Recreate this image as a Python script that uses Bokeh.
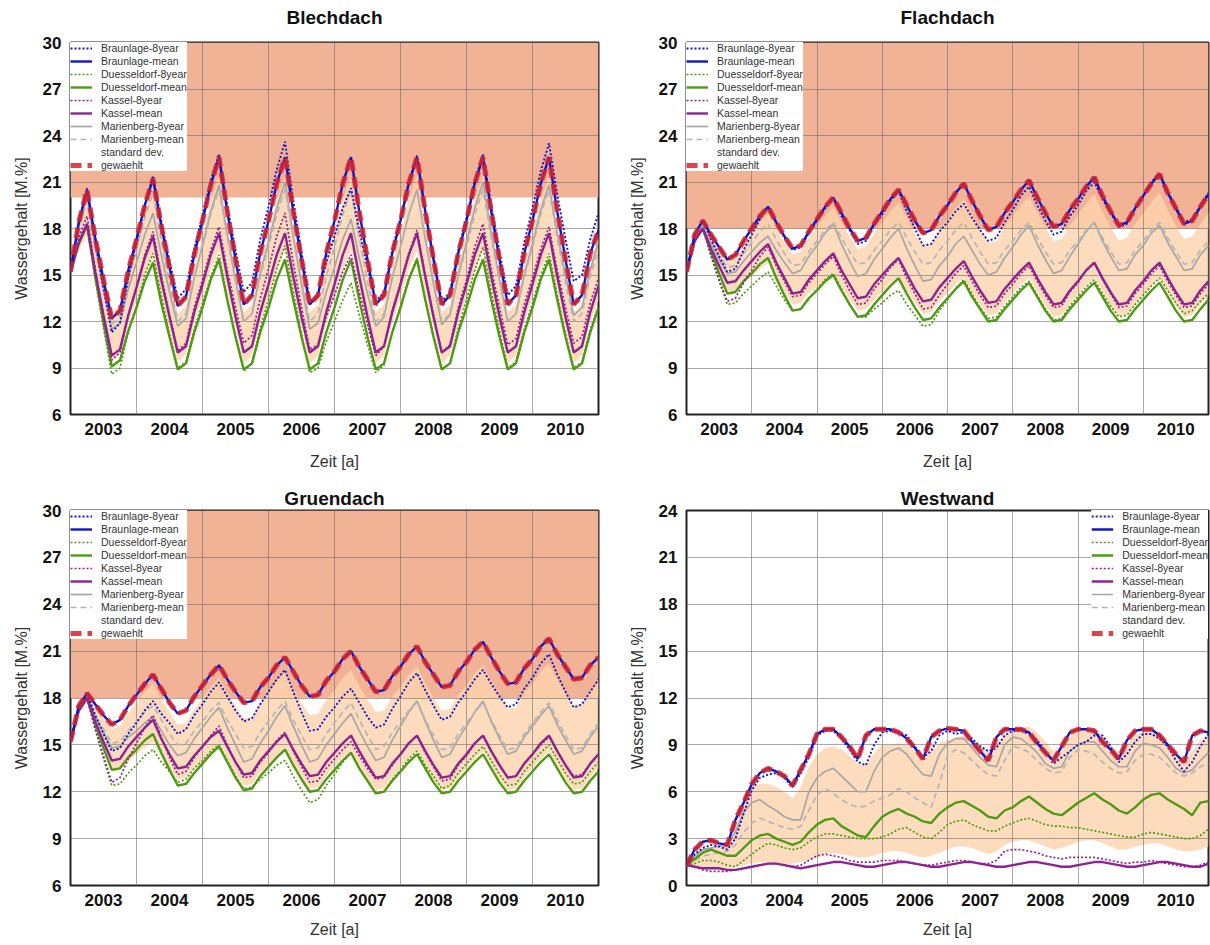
from bokeh.plotting import figure
from bokeh.layouts import column, row
from bokeh.models import Range1d, FixedTicker, Legend, LegendItem, Title
from bokeh.embed import file_html
from bokeh.resources import INLINE

# ---------------- data ----------------
T = [i / 8 for i in range(65)]          # time in years since start of 2003 (1/8-year samples)
YEARS = ["2003", "2004", "2005", "2006", "2007", "2008", "2009", "2010"]
YEAR_POS = [0.5, 1.5, 2.5, 3.5, 4.5, 5.5, 6.5, 7.5]
YEAR_BOUNDS = [1, 2, 3, 4, 5, 6, 7]
Y_TICKS_ROOF = [6, 9, 12, 15, 18, 21, 24, 27, 30]
Y_TICKS_WALL = [0, 3, 6, 9, 12, 15, 18, 21, 24]
THRESHOLD = {"Blechdach": 20.0, "Flachdach": 18.0, "Gruendach": 18.0, "Westwand": None}

# ----- Blechdach -----
BL_B8 = [15.2, 18.4, 20.6, 17.2, 14.1, 11.3, 11.9, 14.8,
         17.1, 19.5, 21.4, 18.5, 15.9, 13.5, 14.1, 16.7,
         18.8, 21.1, 22.8, 19.5, 16.6, 13.9, 14.5, 17.3,
         19.4, 21.8, 23.6, 19.8, 16.5, 13.3, 13.7, 15.8,
         17.5, 19.3, 20.6, 17.9, 15.5, 13.3, 13.9, 16.6,
         18.7, 21.0, 22.7, 19.2, 16.2, 13.3, 13.9, 16.6,
         18.7, 21.1, 22.8, 19.5, 16.5, 13.7, 14.3, 17.1,
         19.3, 21.7, 23.5, 20.2, 17.3, 14.6, 15.0, 17.3, 19.0]
BL_BM = [15.2, 18.4, 20.5, 17.4, 14.7, 12.2, 12.7, 15.3,
         17.3, 19.5, 21.2, 18.2, 15.5, 13.0, 13.6, 16.3,
         18.5, 20.8, 22.6, 19.1, 16.0, 13.1, 13.7, 16.4,
         18.5, 20.9, 22.6, 19.1, 16.0, 13.1, 13.7, 16.4,
         18.5, 20.9, 22.6, 19.1, 16.0, 13.1, 13.7, 16.4,
         18.5, 20.9, 22.6, 19.1, 16.0, 13.1, 13.7, 16.4,
         18.5, 20.9, 22.6, 19.1, 16.0, 13.1, 13.7, 16.4,
         18.5, 20.9, 22.6, 19.1, 16.0, 13.1, 13.7, 16.4, 17.9]
BL_D8 = [15.2, 17.1, 18.3, 14.7, 11.6, 8.6, 9.0, 11.3,
         13.0, 15.0, 16.4, 13.7, 11.2, 9.0, 9.4, 11.5,
         13.2, 14.9, 16.3, 13.5, 11.1, 8.8, 9.3, 11.6,
         13.4, 15.4, 16.9, 13.9, 11.2, 8.7, 9.0, 10.7,
         12.0, 13.4, 14.5, 12.4, 10.5, 8.7, 9.2, 11.3,
         13.0, 14.8, 16.1, 13.4, 11.1, 8.9, 9.3, 11.6,
         13.4, 15.3, 16.8, 13.9, 11.4, 9.0, 9.4, 11.5,
         13.2, 15.0, 16.4, 13.7, 11.2, 9.0, 9.4, 11.5, 13.0]
BL_DM = [15.2, 17.0, 18.2, 14.9, 11.9, 9.1, 9.5, 11.4,
         12.9, 14.6, 15.8, 13.2, 11.0, 8.9, 9.3, 11.3,
         12.9, 14.7, 16.0, 13.4, 11.0, 8.9, 9.3, 11.3,
         12.9, 14.7, 16.0, 13.4, 11.0, 8.9, 9.3, 11.3,
         12.9, 14.7, 16.0, 13.4, 11.0, 8.9, 9.3, 11.3,
         12.9, 14.7, 16.0, 13.4, 11.0, 8.9, 9.3, 11.3,
         12.9, 14.7, 16.0, 13.4, 11.0, 8.9, 9.3, 11.3,
         12.9, 14.7, 16.0, 13.4, 11.0, 8.9, 9.3, 11.3, 12.9]
BL_K8 = [15.2, 17.4, 18.8, 15.4, 12.3, 9.5, 10.0, 12.4,
         14.2, 16.3, 17.8, 15.0, 12.4, 10.1, 10.6, 12.9,
         14.7, 16.6, 18.1, 15.3, 12.9, 10.6, 11.1, 13.5,
         15.4, 17.5, 19.0, 15.8, 12.9, 10.2, 10.5, 12.3,
         13.7, 15.2, 16.3, 13.9, 11.8, 9.8, 10.4, 12.7,
         14.5, 16.4, 17.9, 15.0, 12.4, 10.0, 10.5, 12.9,
         14.7, 16.8, 18.3, 15.4, 12.9, 10.5, 10.9, 13.1,
         14.8, 16.7, 18.1, 15.3, 12.9, 10.6, 11.0, 13.2, 14.8]
BL_KM = [15.2, 17.1, 18.3, 15.2, 12.4, 9.8, 10.2, 12.4,
         14.2, 16.1, 17.5, 14.7, 12.3, 10.0, 10.4, 12.6,
         14.4, 16.3, 17.7, 14.9, 12.3, 10.0, 10.4, 12.6,
         14.4, 16.3, 17.7, 14.9, 12.3, 10.0, 10.4, 12.6,
         14.4, 16.3, 17.7, 14.9, 12.3, 10.0, 10.4, 12.6,
         14.4, 16.3, 17.7, 14.9, 12.3, 10.0, 10.4, 12.6,
         14.4, 16.3, 17.7, 14.9, 12.3, 10.0, 10.4, 12.6,
         14.4, 16.3, 17.7, 14.9, 12.3, 10.0, 10.4, 12.6, 14.3]
BL_M8 = [15.2, 18.1, 20.1, 16.9, 14.1, 11.5, 11.9, 14.1,
         15.8, 17.6, 19.0, 16.3, 13.9, 11.7, 12.2, 14.8,
         16.9, 19.1, 20.8, 17.6, 14.7, 12.0, 12.5, 15.1,
         17.1, 19.3, 21.0, 17.5, 14.4, 11.5, 11.9, 13.9,
         15.5, 17.3, 18.6, 16.1, 13.8, 11.7, 12.3, 14.8,
         16.8, 18.9, 20.5, 17.3, 14.4, 11.8, 12.4, 15.0,
         17.1, 19.3, 21.0, 17.7, 14.7, 12.0, 12.5, 15.0,
         17.0, 19.2, 20.8, 17.7, 15.0, 12.4, 12.9, 15.3, 17.2]
BL_MM = [15.2, 18.0, 19.8, 16.8, 14.2, 11.8, 12.3, 14.7,
         16.6, 18.7, 20.3, 17.2, 14.5, 12.0, 12.5, 14.9,
         16.8, 18.9, 20.5, 17.4, 14.6, 12.0, 12.5, 14.9,
         16.8, 18.9, 20.5, 17.4, 14.6, 12.0, 12.5, 14.9,
         16.8, 18.9, 20.5, 17.4, 14.6, 12.0, 12.5, 14.9,
         16.8, 18.9, 20.5, 17.4, 14.6, 12.0, 12.5, 14.9,
         16.8, 18.9, 20.5, 17.4, 14.6, 12.0, 12.5, 14.9,
         16.8, 18.9, 20.5, 17.4, 14.6, 12.0, 12.5, 14.9, 16.6]
BL_SD_LO = [15.1, 16.6, 17.6, 14.6, 12.0, 9.5, 9.9, 11.8,
            13.3, 15.0, 16.2, 13.7, 11.5, 9.4, 9.9, 11.9,
            13.5, 15.3, 16.6, 13.9, 11.6, 9.3, 9.8, 11.9,
            13.5, 15.3, 16.6, 13.9, 11.6, 9.3, 9.8, 11.9,
            13.5, 15.3, 16.6, 13.9, 11.6, 9.3, 9.8, 11.9,
            13.5, 15.3, 16.6, 13.9, 11.6, 9.3, 9.8, 11.9,
            13.5, 15.3, 16.6, 13.9, 11.6, 9.3, 9.8, 11.9,
            13.5, 15.3, 16.6, 13.9, 11.6, 9.3, 9.8, 11.9, 13.4]
BL_SD_HI = [15.3, 18.2, 20.2, 17.2, 14.6, 12.1, 12.6, 15.1,
            17.1, 19.3, 20.9, 17.8, 15.1, 12.5, 13.0, 15.6,
            17.6, 19.8, 21.5, 18.2, 15.3, 12.6, 13.1, 15.7,
            17.7, 19.9, 21.5, 18.2, 15.3, 12.6, 13.1, 15.7,
            17.7, 19.9, 21.5, 18.2, 15.3, 12.6, 13.1, 15.7,
            17.7, 19.9, 21.5, 18.2, 15.3, 12.6, 13.1, 15.7,
            17.7, 19.9, 21.5, 18.2, 15.3, 12.6, 13.1, 15.7,
            17.7, 19.9, 21.5, 18.2, 15.3, 12.6, 13.1, 15.7, 17.5]

# ----- Flachdach -----
FL_B8 = [15.2, 17.6, 18.6, 17.3, 16.2, 15.2, 15.4, 16.6,
         17.6, 18.6, 19.4, 18.4, 17.4, 16.6, 16.8, 17.7,
         18.5, 19.3, 19.9, 18.8, 17.9, 17.0, 17.2, 18.2,
         18.9, 19.8, 20.4, 19.1, 18.0, 16.9, 17.0, 17.8,
         18.4, 19.1, 19.6, 18.7, 17.9, 17.2, 17.4, 18.4,
         19.2, 20.1, 20.7, 19.5, 18.5, 17.6, 17.8, 18.8,
         19.5, 20.4, 21.0, 19.9, 19.0, 18.1, 18.3, 19.3,
         20.1, 21.0, 21.6, 20.4, 19.4, 18.4, 18.6, 19.5, 20.3]
FL_BM = [15.2, 17.6, 18.5, 17.6, 16.8, 16.0, 16.3, 17.2,
         18.0, 18.8, 19.4, 18.4, 17.5, 16.7, 16.9, 17.8,
         18.6, 19.4, 20.0, 19.0, 18.0, 17.2, 17.4, 18.3,
         19.1, 19.9, 20.5, 19.5, 18.5, 17.7, 17.9, 18.8,
         19.5, 20.3, 20.9, 19.8, 18.8, 17.9, 18.1, 19.0,
         19.7, 20.5, 21.1, 20.0, 19.0, 18.1, 18.3, 19.2,
         19.9, 20.7, 21.3, 20.1, 19.1, 18.2, 18.4, 19.3,
         20.1, 20.9, 21.5, 20.3, 19.3, 18.3, 18.5, 19.4, 20.2]
FL_D8 = [15.2, 17.2, 18.0, 16.2, 14.6, 13.1, 13.2, 13.8,
         14.3, 14.8, 15.2, 14.3, 13.4, 12.7, 12.8, 13.5,
         14.1, 14.7, 15.1, 14.1, 13.1, 12.3, 12.3, 12.8,
         13.2, 13.7, 14.0, 13.1, 12.4, 11.7, 11.8, 12.7,
         13.4, 14.1, 14.7, 13.8, 12.9, 12.2, 12.3, 13.0,
         13.6, 14.2, 14.6, 13.7, 12.8, 12.1, 12.2, 13.0,
         13.6, 14.2, 14.7, 13.8, 13.0, 12.3, 12.4, 13.1,
         13.7, 14.3, 14.8, 14.0, 13.2, 12.5, 12.7, 13.3, 13.8]
FL_DM = [15.2, 17.2, 18.0, 16.5, 15.1, 13.8, 13.9, 14.6,
         15.1, 15.7, 16.1, 14.8, 13.7, 12.7, 12.8, 13.5,
         14.0, 14.6, 15.0, 14.0, 13.1, 12.3, 12.4, 13.1,
         13.7, 14.3, 14.8, 13.8, 12.9, 12.1, 12.2, 12.9,
         13.5, 14.1, 14.6, 13.6, 12.8, 12.0, 12.1, 12.8,
         13.4, 14.0, 14.5, 13.6, 12.7, 12.0, 12.1, 12.8,
         13.4, 14.0, 14.5, 13.6, 12.7, 12.0, 12.1, 12.8,
         13.4, 14.0, 14.5, 13.6, 12.7, 12.0, 12.1, 12.8, 13.4]
FL_K8 = [15.2, 17.2, 18.0, 16.3, 14.7, 13.3, 13.5, 14.5,
         15.3, 16.2, 16.8, 15.6, 14.6, 13.6, 13.7, 14.5,
         15.1, 15.7, 16.2, 15.0, 14.0, 13.1, 13.2, 14.1,
         14.7, 15.5, 16.0, 14.8, 13.8, 12.8, 12.9, 13.7,
         14.4, 15.1, 15.6, 14.6, 13.7, 12.9, 13.0, 13.8,
         14.4, 15.1, 15.6, 14.6, 13.7, 12.9, 13.0, 13.9,
         14.5, 15.3, 15.8, 14.7, 13.8, 12.9, 13.0, 13.8,
         14.4, 15.1, 15.6, 14.6, 13.7, 12.9, 13.0, 13.8, 14.4]
FL_KM = [15.2, 17.2, 18.0, 16.7, 15.6, 14.5, 14.6, 15.3,
         15.9, 16.5, 17.0, 15.8, 14.8, 13.8, 13.9, 14.7,
         15.3, 15.9, 16.4, 15.3, 14.4, 13.5, 13.6, 14.4,
         15.0, 15.6, 16.1, 15.1, 14.1, 13.3, 13.4, 14.2,
         14.8, 15.4, 15.9, 14.9, 14.0, 13.2, 13.3, 14.1,
         14.7, 15.3, 15.8, 14.8, 13.9, 13.1, 13.2, 14.0,
         14.6, 15.3, 15.8, 14.8, 13.9, 13.1, 13.2, 14.0,
         14.6, 15.3, 15.8, 14.8, 13.9, 13.1, 13.2, 14.0, 14.6]
FL_M8 = [15.2, 17.3, 18.2, 17.0, 16.0, 15.1, 15.2, 15.9,
         16.5, 17.1, 17.5, 16.6, 15.8, 15.1, 15.3, 16.2,
         16.9, 17.7, 18.3, 17.0, 15.9, 14.9, 15.1, 16.0,
         16.7, 17.4, 18.0, 16.7, 15.6, 14.6, 14.7, 15.6,
         16.2, 17.0, 17.5, 16.6, 15.7, 15.0, 15.2, 16.1,
         16.8, 17.6, 18.2, 17.0, 16.0, 15.1, 15.3, 16.2,
         17.0, 17.8, 18.4, 17.2, 16.2, 15.3, 15.4, 16.3,
         16.9, 17.7, 18.2, 17.1, 16.2, 15.3, 15.4, 16.3, 16.9]
FL_MM = [15.2, 17.3, 18.2, 17.2, 16.3, 15.5, 15.6, 16.4,
         17.1, 17.8, 18.3, 17.3, 16.4, 15.6, 15.7, 16.5,
         17.2, 17.9, 18.4, 17.4, 16.5, 15.7, 15.8, 16.6,
         17.2, 17.9, 18.4, 17.4, 16.5, 15.7, 15.8, 16.6,
         17.2, 17.9, 18.4, 17.4, 16.5, 15.7, 15.8, 16.6,
         17.2, 17.9, 18.4, 17.4, 16.5, 15.7, 15.8, 16.6,
         17.2, 17.9, 18.4, 17.4, 16.5, 15.7, 15.8, 16.6,
         17.2, 17.9, 18.4, 17.4, 16.5, 15.7, 15.8, 16.6, 17.2]
FL_SD_LO = [15.1, 17.0, 17.9, 16.4, 15.0, 13.8, 13.9, 14.5,
            14.9, 15.4, 15.8, 14.8, 13.9, 13.1, 13.2, 13.8,
            14.2, 14.7, 15.1, 14.2, 13.4, 12.7, 12.8, 13.4,
            13.9, 14.5, 14.9, 14.0, 13.2, 12.5, 12.6, 13.3,
            13.8, 14.4, 14.8, 13.9, 13.1, 12.4, 12.5, 13.2,
            13.8, 14.4, 14.8, 13.9, 13.0, 12.3, 12.4, 13.1,
            13.7, 14.3, 14.8, 13.9, 13.0, 12.3, 12.4, 13.1,
            13.7, 14.3, 14.8, 13.9, 13.0, 12.3, 12.4, 13.1, 13.7]
FL_SD_HI = [15.3, 17.7, 18.5, 17.6, 16.7, 16.0, 16.1, 17.0,
            17.7, 18.4, 19.0, 18.0, 17.1, 16.3, 16.5, 17.4,
            18.1, 18.8, 19.4, 18.4, 17.5, 16.7, 16.8, 17.7,
            18.4, 19.1, 19.7, 18.7, 17.7, 16.9, 17.0, 17.9,
            18.6, 19.3, 19.9, 18.9, 17.9, 17.1, 17.2, 18.1,
            18.8, 19.5, 20.1, 19.0, 18.1, 17.2, 17.3, 18.2,
            18.9, 19.6, 20.2, 19.1, 18.1, 17.2, 17.4, 18.3,
            19.0, 19.7, 20.3, 19.2, 18.2, 17.3, 17.5, 18.3, 19.0]

# ----- Gruendach -----
GR_B8 = [15.2, 17.5, 18.3, 16.9, 15.7, 14.6, 14.8, 15.7,
         16.4, 17.2, 17.8, 17.0, 16.4, 15.7, 16.0, 16.9,
         17.6, 18.4, 19.0, 18.1, 17.2, 16.5, 16.7, 17.6,
         18.4, 19.2, 19.8, 18.4, 17.1, 15.9, 16.0, 16.8,
         17.4, 18.1, 18.6, 17.7, 16.8, 16.1, 16.3, 17.3,
         18.1, 19.0, 19.6, 18.5, 17.5, 16.6, 16.8, 17.7,
         18.4, 19.2, 19.8, 18.9, 18.1, 17.4, 17.6, 18.6,
         19.3, 20.2, 20.8, 19.5, 18.4, 17.4, 17.6, 18.4, 19.2]
GR_BM = [15.2, 17.5, 18.3, 17.6, 16.9, 16.3, 16.6, 17.5,
         18.2, 18.9, 19.5, 18.6, 17.7, 17.0, 17.2, 18.1,
         18.8, 19.5, 20.1, 19.2, 18.4, 17.7, 17.8, 18.7,
         19.3, 20.1, 20.6, 19.7, 18.8, 18.1, 18.2, 19.1,
         19.7, 20.5, 21.0, 20.0, 19.2, 18.4, 18.5, 19.4,
         20.0, 20.8, 21.3, 20.3, 19.5, 18.7, 18.8, 19.7,
         20.3, 21.1, 21.6, 20.6, 19.7, 18.9, 19.0, 19.9,
         20.5, 21.3, 21.8, 20.8, 20.0, 19.2, 19.3, 20.1, 20.6]
GR_D8 = [15.2, 17.2, 18.0, 16.0, 14.1, 12.4, 12.5, 13.2,
         13.7, 14.3, 14.7, 13.9, 13.3, 12.6, 12.8, 13.5,
         14.0, 14.6, 15.0, 14.0, 13.0, 12.2, 12.3, 12.8,
         13.2, 13.7, 14.0, 13.0, 12.1, 11.3, 11.5, 12.4,
         13.1, 13.9, 14.5, 13.5, 12.7, 11.9, 12.0, 12.8,
         13.4, 14.1, 14.6, 13.7, 13.0, 12.2, 12.4, 13.2,
         13.8, 14.4, 14.9, 14.0, 13.1, 12.4, 12.5, 13.3,
         13.9, 14.5, 15.0, 14.1, 13.2, 12.5, 12.6, 13.3, 13.9]
GR_DM = [15.2, 17.2, 18.0, 16.3, 14.8, 13.4, 13.5, 14.2,
         14.7, 15.3, 15.7, 14.5, 13.4, 12.4, 12.5, 13.2,
         13.8, 14.4, 14.9, 13.9, 12.9, 12.1, 12.2, 13.0,
         13.6, 14.2, 14.7, 13.7, 12.8, 12.0, 12.1, 12.8,
         13.4, 14.0, 14.5, 13.5, 12.7, 11.9, 12.0, 12.7,
         13.3, 13.9, 14.4, 13.5, 12.6, 11.9, 12.0, 12.7,
         13.3, 13.9, 14.4, 13.5, 12.6, 11.9, 12.0, 12.7,
         13.3, 13.9, 14.4, 13.5, 12.6, 11.9, 12.0, 12.7, 13.3]
GR_K8 = [15.2, 17.2, 18.0, 16.0, 14.3, 12.6, 12.9, 14.1,
         15.1, 16.1, 16.9, 15.5, 14.2, 13.1, 13.3, 14.2,
         14.9, 15.6, 16.2, 15.0, 13.9, 12.9, 13.0, 13.9,
         14.5, 15.3, 15.8, 14.6, 13.6, 12.6, 12.7, 13.5,
         14.1, 14.7, 15.2, 14.3, 13.5, 12.8, 12.9, 13.7,
         14.4, 15.1, 15.6, 14.5, 13.6, 12.7, 12.8, 13.7,
         14.3, 15.1, 15.6, 14.6, 13.7, 12.9, 13.0, 13.8,
         14.4, 15.0, 15.5, 14.6, 13.7, 13.0, 13.1, 13.8, 14.4]
GR_KM = [15.2, 17.2, 18.0, 16.5, 15.2, 14.0, 14.1, 14.9,
         15.5, 16.1, 16.6, 15.4, 14.4, 13.5, 13.6, 14.3,
         14.9, 15.5, 15.9, 14.9, 13.9, 13.1, 13.2, 14.0,
         14.6, 15.2, 15.7, 14.7, 13.8, 13.0, 13.1, 13.9,
         14.5, 15.1, 15.6, 14.6, 13.7, 12.9, 13.0, 13.8,
         14.4, 15.1, 15.6, 14.6, 13.7, 12.9, 13.0, 13.8,
         14.4, 15.1, 15.6, 14.6, 13.7, 12.9, 13.0, 13.8,
         14.4, 15.1, 15.6, 14.6, 13.7, 12.9, 13.0, 13.8, 14.4]
GR_M8 = [15.2, 17.2, 18.0, 16.8, 15.8, 14.8, 14.9, 15.5,
         15.9, 16.4, 16.8, 15.9, 15.0, 14.3, 14.5, 15.4,
         16.1, 16.8, 17.4, 16.1, 15.0, 13.9, 14.1, 15.1,
         15.9, 16.8, 17.5, 16.2, 15.0, 13.9, 14.1, 15.0,
         15.7, 16.4, 17.0, 15.9, 14.9, 14.0, 14.2, 15.3,
         16.2, 17.1, 17.8, 16.5, 15.3, 14.2, 14.4, 15.4,
         16.2, 17.1, 17.8, 16.5, 15.4, 14.4, 14.6, 15.5,
         16.2, 16.9, 17.5, 16.3, 15.3, 14.4, 14.6, 15.5, 16.2]
GR_MM = [15.2, 17.2, 18.0, 16.9, 16.0, 15.1, 15.2, 15.9,
         16.5, 17.1, 17.5, 16.6, 15.7, 15.0, 15.1, 15.9,
         16.5, 17.2, 17.7, 16.6, 15.7, 14.8, 14.9, 15.8,
         16.5, 17.2, 17.8, 16.6, 15.6, 14.7, 14.8, 15.7,
         16.4, 17.1, 17.7, 16.6, 15.6, 14.7, 14.9, 15.8,
         16.5, 17.2, 17.8, 16.6, 15.6, 14.7, 14.8, 15.7,
         16.4, 17.1, 17.7, 16.6, 15.6, 14.7, 14.8, 15.7,
         16.4, 17.1, 17.7, 16.6, 15.6, 14.7, 14.8, 15.7, 16.4]
GR_SD_LO = [15.1, 17.0, 17.8, 16.1, 14.7, 13.3, 13.4, 13.9,
            14.4, 14.8, 15.2, 14.3, 13.5, 12.8, 12.9, 13.5,
            13.9, 14.4, 14.8, 13.9, 13.1, 12.4, 12.5, 13.2,
            13.7, 14.3, 14.7, 13.8, 12.9, 12.2, 12.3, 13.0,
            13.6, 14.2, 14.6, 13.7, 12.8, 12.1, 12.2, 12.9,
            13.5, 14.1, 14.6, 13.7, 12.8, 12.1, 12.2, 12.9,
            13.5, 14.1, 14.6, 13.7, 12.8, 12.1, 12.2, 12.9,
            13.5, 14.1, 14.6, 13.7, 12.8, 12.1, 12.2, 12.9, 13.5]
GR_SD_HI = [15.3, 17.5, 18.4, 17.5, 16.8, 16.0, 16.2, 17.0,
            17.7, 18.4, 18.9, 17.9, 17.1, 16.3, 16.4, 17.3,
            18.0, 18.7, 19.3, 18.3, 17.5, 16.7, 16.8, 17.7,
            18.3, 19.1, 19.6, 18.6, 17.7, 16.9, 17.0, 17.9,
            18.5, 19.3, 19.8, 18.8, 17.9, 17.1, 17.2, 18.1,
            18.7, 19.5, 20.0, 19.0, 18.0, 17.2, 17.3, 18.2,
            18.8, 19.6, 20.1, 19.1, 18.1, 17.3, 17.4, 18.3,
            18.9, 19.7, 20.2, 19.2, 18.3, 17.5, 17.6, 18.4, 19.0]

# ----- Westwand -----
WW_B8 = [1.3, 2.0, 2.4, 2.6, 2.5, 2.3, 3.0, 4.6,
         6.1, 6.9, 7.1, 7.2, 6.9, 6.3, 7.2, 8.2,
         9.6, 9.9, 9.9, 9.4, 8.7, 7.9, 7.7, 9.0,
         9.8, 9.9, 9.8, 9.6, 8.9, 8.2, 8.6, 9.6,
         9.9, 9.7, 9.8, 9.4, 8.9, 8.6, 8.8, 9.6,
         9.9, 9.9, 9.7, 9.3, 8.6, 7.8, 8.2, 8.6,
         9.0, 9.2, 9.6, 9.6, 8.9, 7.9, 8.4, 9.2,
         9.7, 9.7, 9.4, 8.9, 8.0, 7.3, 7.9, 8.9, 9.7]
WW_BM = [1.3, 2.3, 2.8, 2.9, 2.7, 2.6, 4.2, 5.3,
         6.5, 7.2, 7.5, 7.3, 7.0, 6.4, 7.4, 8.4,
         9.7, 10.0, 10.0, 9.5, 8.9, 8.1, 9.6, 10.0,
         10.0, 10.0, 9.8, 9.4, 8.8, 8.1, 9.5, 9.9,
         10.05, 10.0, 9.9, 9.2, 8.6, 8.0, 9.5, 10.0,
         10.0, 10.0, 9.8, 9.1, 8.5, 8.0, 8.9, 9.8,
         10.0, 10.0, 9.9, 9.2, 8.7, 8.1, 9.3, 9.9,
         10.0, 10.0, 9.6, 9.0, 8.4, 7.9, 9.6, 9.9, 9.8]
WW_D8 = [1.3, 1.4, 1.6, 1.6, 1.5, 1.3, 1.2, 1.6,
         2.0, 2.4, 2.7, 2.6, 2.4, 2.3, 2.4, 2.8,
         3.1, 3.3, 3.3, 3.2, 3.1, 3.0, 3.0, 3.0,
         3.1, 3.3, 3.6, 3.7, 3.4, 3.1, 3.0, 3.4,
         3.9, 4.1, 4.2, 3.9, 3.7, 3.5, 3.5, 3.8,
         4.0, 4.2, 4.3, 4.1, 3.9, 3.8, 3.8, 3.7,
         3.7, 3.6, 3.5, 3.4, 3.3, 3.2, 3.1, 3.1,
         3.3, 3.4, 3.3, 3.2, 3.1, 3.0, 3.0, 3.2, 3.6]
WW_DM = [1.3, 1.7, 2.1, 2.3, 2.1, 1.9, 1.9, 2.4,
         2.9, 3.2, 3.3, 3.0, 2.8, 2.6, 2.8, 3.4,
         3.9, 4.2, 4.3, 3.8, 3.5, 3.2, 3.1, 3.8,
         4.4, 4.7, 4.9, 4.6, 4.4, 4.1, 4.0, 4.6,
         5.0, 5.3, 5.4, 5.1, 4.8, 4.4, 4.3, 4.8,
         5.0, 5.4, 5.7, 5.3, 4.9, 4.6, 4.5, 4.9,
         5.3, 5.6, 5.9, 5.5, 5.2, 4.8, 4.6, 5.0,
         5.5, 5.8, 5.9, 5.5, 5.2, 4.9, 4.5, 5.3, 5.4]
WW_K8 = [1.3, 1.2, 1.0, 0.9, 0.9, 0.9, 1.0, 1.1,
         1.2, 1.3, 1.4, 1.4, 1.3, 1.2, 1.3, 1.6,
         1.9, 2.0, 1.9, 1.8, 1.6, 1.5, 1.5, 1.5,
         1.6, 1.6, 1.6, 1.5, 1.4, 1.3, 1.3, 1.4,
         1.5, 1.6, 1.6, 1.5, 1.4, 1.4, 1.6, 2.2,
         2.3, 2.3, 2.2, 2.1, 1.9, 1.8, 1.7, 1.8,
         1.8, 1.8, 1.8, 1.7, 1.6, 1.5, 1.4, 1.5,
         1.5, 1.6, 1.5, 1.4, 1.3, 1.2, 1.2, 1.3, 1.5]
WW_KM = [1.3, 1.2, 1.1, 1.1, 1.1, 1.0, 1.0, 1.1,
         1.2, 1.3, 1.4, 1.4, 1.3, 1.2, 1.1, 1.2,
         1.3, 1.4, 1.5, 1.5, 1.4, 1.3, 1.2, 1.2,
         1.3, 1.4, 1.5, 1.5, 1.4, 1.3, 1.2, 1.2,
         1.3, 1.4, 1.5, 1.5, 1.4, 1.3, 1.2, 1.2,
         1.3, 1.4, 1.5, 1.5, 1.4, 1.3, 1.2, 1.2,
         1.3, 1.4, 1.5, 1.5, 1.4, 1.3, 1.2, 1.2,
         1.3, 1.4, 1.5, 1.5, 1.4, 1.3, 1.2, 1.2, 1.4]
WW_M8 = [1.3, 1.9, 2.3, 2.4, 2.5, 2.7, 3.4, 4.7,
         5.3, 5.5, 5.1, 4.8, 4.4, 4.2, 4.2, 6.0,
         6.9, 7.3, 7.5, 7.0, 6.5, 6.0, 6.0, 7.3,
         8.2, 8.6, 8.8, 8.4, 7.7, 7.1, 7.0, 8.4,
         9.1, 9.4, 9.4, 8.8, 8.2, 7.7, 7.6, 9.0,
         9.5, 9.4, 9.0, 8.5, 7.8, 7.5, 7.6, 8.6,
         9.0, 9.2, 9.2, 8.6, 8.0, 7.6, 7.6, 8.6,
         9.1, 9.0, 8.8, 8.2, 7.5, 7.2, 7.4, 8.0, 8.5]
WW_MM = [1.3, 1.6, 1.9, 2.0, 2.1, 2.2, 2.6, 3.4,
         4.0, 4.3, 4.1, 3.9, 3.7, 3.6, 3.8, 4.8,
         5.8, 6.2, 5.9, 5.5, 5.2, 5.0, 5.1, 5.4,
         5.6, 5.8, 6.2, 6.0, 5.6, 5.3, 5.0, 6.5,
         8.3, 8.7, 8.5, 8.0, 7.5, 7.1, 7.0, 8.0,
         8.9, 8.8, 8.5, 8.0, 7.5, 7.2, 7.3, 8.2,
         8.7, 8.6, 8.4, 7.9, 7.5, 7.2, 7.3, 8.0,
         8.4, 8.4, 8.2, 7.7, 7.2, 7.0, 7.2, 7.6, 7.8]
WW_SD_LO = [1.2, 1.2, 1.2, 1.2, 1.1, 1.1, 1.2, 1.3,
            1.4, 1.5, 1.5, 1.4, 1.4, 1.4, 1.5, 1.6,
            1.8, 2.0, 2.1, 2.0, 1.9, 1.8, 1.8, 1.9,
            2.1, 2.2, 2.2, 2.1, 1.9, 1.8, 1.9, 2.1,
            2.3, 2.5, 2.5, 2.4, 2.2, 2.0, 2.2, 2.6,
            2.8, 2.9, 2.9, 2.7, 2.5, 2.3, 2.4, 2.6,
            2.8, 2.9, 2.9, 2.7, 2.5, 2.3, 2.3, 2.5,
            2.6, 2.7, 2.7, 2.5, 2.3, 2.2, 2.2, 2.3, 2.5]
WW_SD_HI = [1.4, 1.9, 2.3, 2.5, 2.5, 2.6, 3.5, 5.5,
            6.3, 6.5, 6.5, 6.3, 6.0, 5.6, 6.3, 7.6,
            8.4, 8.8, 8.9, 8.7, 8.3, 7.8, 7.7, 8.5,
            9.0, 9.0, 9.1, 9.0, 8.6, 8.2, 8.6, 9.1,
            9.3, 9.5, 9.6, 9.4, 9.0, 8.6, 9.0, 9.6,
            9.9, 10.1, 10.2, 9.8, 9.2, 8.6, 9.0, 9.6,
            9.9, 10.0, 10.1, 9.6, 9.0, 8.5, 9.0, 9.6,
            9.9, 10.0, 9.7, 9.2, 8.6, 8.0, 8.6, 9.3, 9.6]

PANELS = {
    "Blechdach": dict(b8=BL_B8, bm=BL_BM, d8=BL_D8, dm=BL_DM, k8=BL_K8, km=BL_KM,
                      m8=BL_M8, mm=BL_MM, lo=BL_SD_LO, hi=BL_SD_HI),
    "Flachdach": dict(b8=FL_B8, bm=FL_BM, d8=FL_D8, dm=FL_DM, k8=FL_K8, km=FL_KM,
                      m8=FL_M8, mm=FL_MM, lo=FL_SD_LO, hi=FL_SD_HI),
    "Gruendach": dict(b8=GR_B8, bm=GR_BM, d8=GR_D8, dm=GR_DM, k8=GR_K8, km=GR_KM,
                      m8=GR_M8, mm=GR_MM, lo=GR_SD_LO, hi=GR_SD_HI),
    "Westwand": dict(b8=WW_B8, bm=WW_BM, d8=WW_D8, dm=WW_DM, k8=WW_K8, km=WW_KM,
                     m8=WW_M8, mm=WW_MM, lo=WW_SD_LO, hi=WW_SD_HI),
}

# ---------------- style ----------------
FONT = "Liberation Sans"
SALMON = "#F2B296"
PEACH = "#FCD3AE"
BLUE = "#1414C8"
GREEN = "#4F9A12"
PURPLE = "#8E2290"
GRAY8 = "#A6A6A6"
GRAYM = "#B4B4B4"
RED = "#D6222E"
SDCOL = "#EBD3B0"


def make_panel(name, y0, y1, yticks, legend_loc, width, height, bl, br, bt, bb,
               spacer_px, xlabel_gap):
    d = PANELS[name]
    p = figure(width=width, height=height, x_range=Range1d(T[0], T[-1]),
               y_range=Range1d(y0, y1), output_backend="svg", toolbar_location=None,
               min_border_left=bl, min_border_right=br, min_border_top=bt,
               min_border_bottom=bb, background_fill_color="white",
               border_fill_color="white", title=None)
    if spacer_px:
        p.add_layout(Title(text=" ", text_font_size=f"{spacer_px}px", standoff=0), "above")
    p.add_layout(Title(text=name, align="center", text_font=FONT, text_font_size="19px",
                       text_font_style="bold", text_color="#111111", standoff=4), "above")

    thr = THRESHOLD[name]
    if thr is not None:
        p.quad(left=[T[0]], right=[T[-1]], bottom=[thr], top=[y1],
               fill_color=SALMON, line_color=None, level="image")
    p.varea(x=T, y1=d["lo"], y2=d["hi"], fill_color=PEACH, fill_alpha=0.8,
            level="image")

    r_m8 = p.line(T, d["m8"], line_color=GRAY8, line_width=1.7)
    r_mm = p.line(T, d["mm"], line_color=GRAYM, line_width=1.7, line_dash="6 4")
    r_d8 = p.line(T, d["d8"], line_color=GREEN, line_width=1.7, line_dash="2 2")
    r_dm = p.line(T, d["dm"], line_color=GREEN, line_width=2.4)
    r_k8 = p.line(T, d["k8"], line_color=PURPLE, line_width=1.7, line_dash="2 2")
    r_km = p.line(T, d["km"], line_color=PURPLE, line_width=2.4)
    r_b8 = p.line(T, d["b8"], line_color=BLUE, line_width=1.9, line_dash="2 2")
    r_bm = p.line(T, d["bm"], line_color=BLUE, line_width=2.4)
    r_sd = p.line(x=[], y=[], line_color=SDCOL, line_width=2, line_dash="2 2")
    r_gw = p.line(T, d["bm"], line_color=RED, line_width=5, line_dash="11 6",
                  line_alpha=0.85)

    items = [("Braunlage-8year", r_b8), ("Braunlage-mean", r_bm),
             ("Duesseldorf-8year", r_d8), ("Duesseldorf-mean", r_dm),
             ("Kassel-8year", r_k8), ("Kassel-mean", r_km),
             ("Marienberg-8year", r_m8), ("Marienberg-mean", r_mm),
             ("standard dev.", r_sd), ("gewaehlt", r_gw)]
    leg = Legend(items=[LegendItem(label=l, renderers=[r]) for l, r in items],
                 location=legend_loc, margin=0, padding=7, spacing=1,
                 label_height=12, glyph_height=12, glyph_width=22,
                 label_standoff=9, label_text_font=FONT,
                 label_text_font_size="10.5px", label_text_color="#333333",
                 background_fill_color="white", background_fill_alpha=1.0,
                 border_line_color=None)
    p.add_layout(leg, "center")

    # axes
    p.xaxis.ticker = FixedTicker(ticks=YEAR_POS)
    p.xaxis.major_label_overrides = {pos: lab for pos, lab in zip(YEAR_POS, YEARS)}
    p.yaxis.ticker = FixedTicker(ticks=yticks)
    for ax in (p.xaxis[0], p.yaxis[0]):
        ax.axis_line_color = None
        ax.major_tick_line_color = None
        ax.minor_tick_line_color = None
        ax.major_label_text_font = FONT
        ax.major_label_text_font_size = "17px"
        ax.major_label_text_font_style = "bold"
        ax.major_label_text_color = "#111111"
        ax.axis_label_text_font = FONT
        ax.axis_label_text_font_size = "16px"
        ax.axis_label_text_font_style = "normal"
        ax.axis_label_text_color = "#333333"
    p.xaxis.major_label_standoff = 2
    p.yaxis.major_label_standoff = 3
    p.xaxis.axis_label = "Zeit [a]"
    p.yaxis.axis_label = "Wassergehalt [M.%]"
    p.xaxis.axis_label_standoff = xlabel_gap
    p.yaxis.axis_label_standoff = 10

    p.xgrid.ticker = FixedTicker(ticks=YEAR_BOUNDS)
    p.ygrid.ticker = FixedTicker(ticks=yticks)
    for g in (p.xgrid[0], p.ygrid[0]):
        g.grid_line_color = "#6E6E6E"
        g.grid_line_alpha = 0.6
        g.grid_line_width = 1

    p.outline_line_color = "#222222"
    p.outline_line_width = 2
    return p


p1 = make_panel("Blechdach", 6, 30, Y_TICKS_ROOF, "top_left", 605, 472, 70, 7, 42, 55, 10, 15)
p2 = make_panel("Flachdach", 6, 30, Y_TICKS_ROOF, "top_left", 605, 472, 81, 2, 42, 55, 10, 15)
p3 = make_panel("Gruendach", 6, 30, Y_TICKS_ROOF, "top_left", 605, 473, 70, 7, 38, 60, 0, 12)
p4 = make_panel("Westwand", 0, 24, Y_TICKS_WALL, "top_right", 605, 473, 81, 2, 38, 60, 0, 12)

layout = column(row(p1, p2), row(p3, p4))
open("out.html", "w").write(file_html(layout, INLINE))
